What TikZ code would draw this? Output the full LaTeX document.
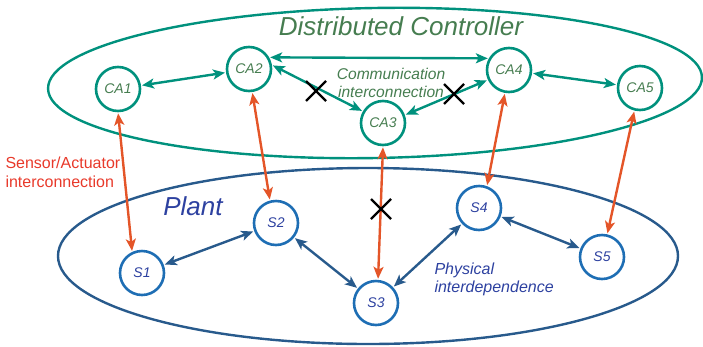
\documentclass[tikz,border=0pt]{standalone}
\usepackage{fontspec}
\setmainfont{Liberation Sans}
\usetikzlibrary{arrows.meta,calc}
\definecolor{ctrlteal}{RGB}{0,145,125}
\definecolor{ctrltext}{RGB}{70,125,80}
\definecolor{plantline}{RGB}{40,90,140}
\definecolor{sring}{RGB}{30,110,180}
\definecolor{stext}{RGB}{45,65,160}
\definecolor{linkorange}{RGB}{228,85,40}
\definecolor{labelred}{RGB}{232,57,42}
\tikzset{
  >={Stealth[length=12pt,width=10pt,inset=3pt]},
  canode/.style={circle,draw=ctrlteal,line width=2.6pt,minimum size=44pt,inner sep=0pt,
    text=ctrltext,font=\fontsize{14}{16}\selectfont\itshape},
  snode/.style={circle,draw=sring,line width=2.6pt,minimum size=44pt,inner sep=0pt,
    text=stext,font=\fontsize{14}{16}\selectfont\itshape},
  commlink/.style={draw=ctrlteal,line width=2.4pt,<->,shorten <=1pt,shorten >=1pt},
  physlink/.style={draw=plantline,line width=2.4pt,<->,shorten <=1pt,shorten >=1pt},
  salink/.style={draw=linkorange,line width=2.4pt,<->,shorten <=1pt,shorten >=1pt},
  cutmark/.style={draw=black,line width=2.2pt},
}
\begin{document}
\begin{tikzpicture}[x=1pt,y=-1pt]
\useasboundingbox (0,0) rectangle (703,346);
% layer outlines
\draw[ctrlteal,line width=2.4pt] (375,83) ellipse [x radius=327,y radius=75,rotate=1];
\draw[plantline,line width=2.4pt] (368,256) ellipse [x radius=310,y radius=88];
% titles
\node[text=ctrltext,font=\fontsize{26}{30}\selectfont\itshape] (ttl) at (401,26) {Distributed Controller};
\node[text=stext,font=\fontsize{26}{30}\selectfont\itshape] (plant) at (193,206) {Plant};
% controller agents
\node[canode] (CA1) at (118,89) {CA1};
\node[canode] (CA2) at (249,69) {CA2};
\node[canode] (CA3) at (383,123) {CA3};
\node[canode] (CA4) at (509,70) {CA4};
\node[canode] (CA5) at (640,88) {CA5};
% subsystems
\node[snode] (S1) at (142,273) {S1};
\node[snode] (S2) at (276,223) {S2};
\node[snode] (S3) at (376,303) {S3};
\node[snode] (S4) at (479,208) {S4};
\node[snode] (S5) at (602,257) {S5};
% communication links
\draw[commlink] (CA1) -- (CA2);
\draw[commlink] (CA2.30) -- (CA4.150);
\draw[commlink] (CA2.10) -- (CA3.150);
\draw[commlink] (CA3.20) -- (CA4.-155);
\draw[commlink] (CA4) -- (CA5);
% physical links
\draw[physlink] (S1) -- (S2);
\draw[physlink] (S2) -- (S3);
\draw[physlink] (S3) -- (S4);
\draw[physlink] (S4) -- (S5);
% sensor/actuator links
\draw[salink] (CA1.-90) -- (S1.115);
\draw[salink] (CA2.-82) -- (S2.105);
\draw[salink] (CA3.-90) -- (S3.85);
\draw[salink] (CA4.-100) -- (S4.70);
\draw[salink] (CA5.-104) -- (S5.77);
% broken links
\coordinate (x1) at (316,91);
\coordinate (x2) at (454,94);
\coordinate (x3) at (381,209);
\foreach \c in {x1,x2,x3}{
  \draw[cutmark] ($(\c)+(-10,-10)$) -- ($(\c)+(10,10)$);
  \draw[cutmark] ($(\c)+(-10,10)$) -- ($(\c)+(10,-10)$);
}
% annotations
\node[text=ctrltext,font=\fontsize{15.6}{18}\selectfont\itshape,align=center] (comm) at (391,83) {Communication\\interconnection};
\node[text=stext,font=\fontsize{16}{18}\selectfont\itshape,align=left,anchor=west] (phys) at (431,279) {Physical\\interdependence};
\node[text=labelred,font=\fontsize{16}{19}\selectfont,align=left,anchor=west] (sa) at (2,172) {Sensor/Actuator\\interconnection};
\end{tikzpicture}
\end{document}
